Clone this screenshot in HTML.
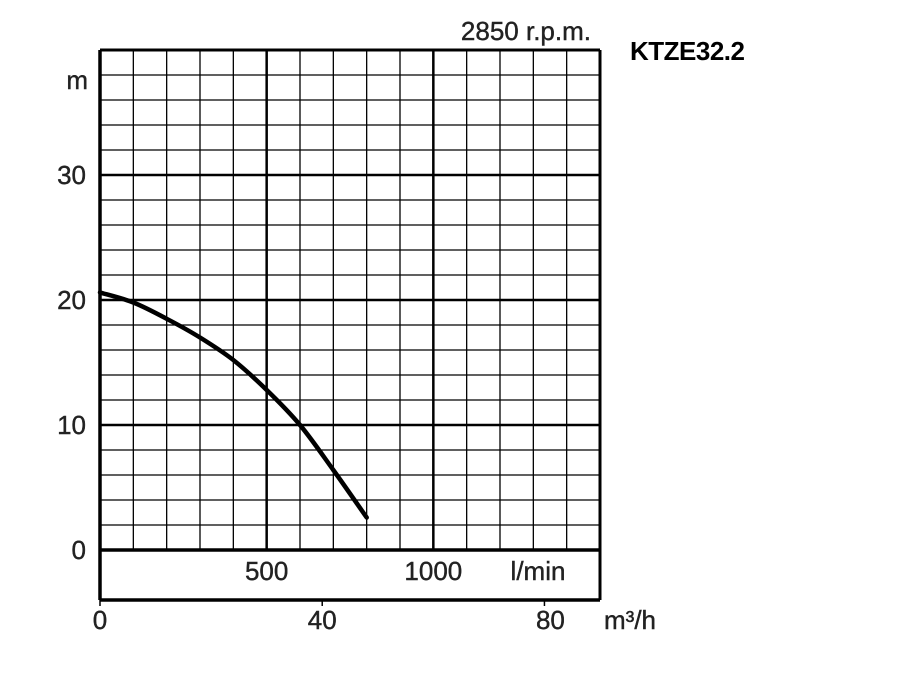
<!DOCTYPE html>
<html><head><meta charset="utf-8"><style>
html,body{margin:0;padding:0;background:#fff;}
svg{display:block;font-family:"Liberation Sans",Arial,sans-serif;}
</style></head><body>
<svg id="chart" width="900" height="700" viewBox="0 0 900 700" xmlns="http://www.w3.org/2000/svg">
<text x="591" y="40" font-size="26" fill="#222" stroke="#222" stroke-width="0.4" text-anchor="end">2850 r.p.m.</text>
<text x="630" y="60" font-size="26" font-weight="bold" fill="#000" letter-spacing="-0.5">KTZE32.2</text>
<g id="grid"></g>
<g id="labels"></g>
<path id="curve" fill="none" stroke="#000" stroke-width="4.5" stroke-linecap="round" stroke-linejoin="round"/>
</svg>
<script>
const flowLmin = [0, 100, 200, 300, 400, 500, 600, 700, 800];
const headM = [20.6, 19.8, 18.5, 17.0, 15.2, 12.8, 10.0, 6.4, 2.6];
const yTicks = [0, 10, 20, 30];
const lminTicks = [500, 1000];
const m3hTicks = [0, 40, 80];

const X0 = 100, X1 = 600, Y0 = 550, Y1 = 50;
const xMax = 1500, yMax = 40;
const sx = v => X0 + v / xMax * (X1 - X0);
const sy = v => Y0 - v / yMax * (Y0 - Y1);
const sxm3 = v => sx(v * 1000 / 60);
const NS = "http://www.w3.org/2000/svg";
const grid = document.getElementById('grid');
const labels = document.getElementById('labels');
function line(x1, y1, x2, y2, w, name, parent) {
  const l = document.createElementNS(NS, 'line');
  l.setAttribute('x1', x1); l.setAttribute('y1', y1);
  l.setAttribute('x2', x2); l.setAttribute('y2', y2);
  l.setAttribute('stroke', '#000'); l.setAttribute('stroke-width', w);
  
  
  parent.appendChild(l);
}
function text(x, y, s, anchor, name) {
  const t = document.createElementNS(NS, 'text');
  t.setAttribute('x', x); t.setAttribute('y', y);
  t.setAttribute('font-size', '26'); t.setAttribute('fill', '#222');
  t.setAttribute('stroke', '#222'); t.setAttribute('stroke-width', '0.4');
  t.setAttribute('text-anchor', anchor);
  t.textContent = s;
  
  
  labels.appendChild(t);
}
for (let v = 100; v < xMax; v += 100) {
  const major = v % 500 === 0;
  line(sx(v), Y1, sx(v), Y0, major ? 2.5 : 1.3, 'vertical-gridline', grid);
}
for (let v = 2; v < yMax; v += 2) {
  line(X0, sy(v), X1, sy(v), v % 10 === 0 ? 2.5 : 1.3, 'horizontal-gridline', grid);
}
line(X0, Y1, X1, Y1, 3, 'frame-top', grid);
line(X1, Y1, X1, 600, 3, 'frame-right', grid);
line(X0, Y1, X0, 600, 3.5, 'frame-left', grid);
line(X0, Y0, X1, Y0, 3.5, 'x-axis-line', grid);
line(X0, 600, X1, 600, 3.5, 'lower-box-bottom', grid);
m3hTicks.forEach(v => line(sxm3(v), 600, sxm3(v), 606, 1.5, 'm3h-tick', grid));
yTicks.forEach(v => text(86, sy(v) + 9, String(v), 'end', 'y-tick-label'));
text(88, 89, 'm', 'end', 'y-axis-unit');
lminTicks.forEach(v => text(sx(v), 580, String(v), 'middle', 'lmin-tick-label'));
text(538, 580, 'l/min', 'middle', 'lmin-unit');
m3hTicks.forEach(v => text(sxm3(v) + (v === 80 ? 6 : 0), 629, String(v), 'middle', 'm3h-tick-label'));
text(604, 629, 'm³/h', 'start', 'm3h-unit');
const pts = flowLmin.map((f, i) => [sx(f), sy(headM[i])]);
let d = 'M' + pts[0][0].toFixed(1) + ' ' + pts[0][1].toFixed(1);
for (let i = 0; i < pts.length - 1; i++) {
  const p0 = pts[Math.max(0, i - 1)], p1 = pts[i], p2 = pts[i + 1], p3 = pts[Math.min(pts.length - 1, i + 2)];
  const c1 = [p1[0] + (p2[0] - p0[0]) / 6, p1[1] + (p2[1] - p0[1]) / 6];
  const c2 = [p2[0] - (p3[0] - p1[0]) / 6, p2[1] - (p3[1] - p1[1]) / 6];
  d += ' C' + c1[0].toFixed(1) + ' ' + c1[1].toFixed(1) + ' ' + c2[0].toFixed(1) + ' ' + c2[1].toFixed(1) + ' ' + p2[0].toFixed(1) + ' ' + p2[1].toFixed(1);
}
document.getElementById('curve').setAttribute('d', d);
</script>
</body></html>
